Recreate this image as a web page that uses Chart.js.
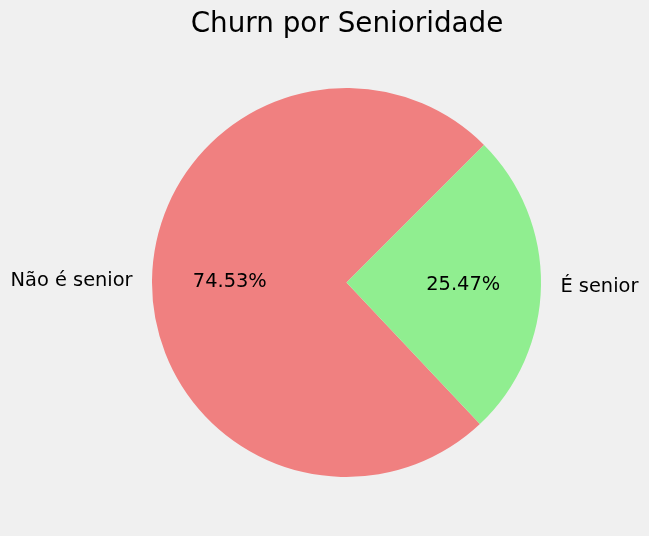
<!DOCTYPE html>
<html>
<head>
<meta charset="utf-8">
<script src="https://cdn.jsdelivr.net/npm/chart.js@4/dist/chart.umd.min.js"></script>
<style>
  html, body { margin: 0; padding: 0; background: #f0f0f0; }
  #wrap { width: 649px; height: 536px; position: relative; }
</style>
</head>
<body>
<div id="wrap"><canvas id="chart" width="649" height="536"></canvas></div>
<script>
const TITLE = 'Churn por Senioridade';
const labels = ['Não é senior', 'É senior'];
const shares = [74.53, 25.47];
const colors = ['#f08080', '#90ee90'];

const FONT = '"DejaVu Sans", sans-serif';

// matplotlib draws counter-clockwise from 45deg; chart.js goes clockwise from top
const rotation = 45 + shares[1] / 100 * 360;

const pieText = {
  id: 'pieText',
  afterDraw(chart) {
    const ctx = chart.ctx;
    const meta = chart.getDatasetMeta(0);
    const total = shares.reduce((a, b) => a + b, 0);
    ctx.save();
    ctx.fillStyle = '#000';
    ctx.textBaseline = 'middle';
    ctx.font = '19.4px ' + FONT;
    meta.data.forEach((arc, i) => {
      const p = arc.getProps(['x', 'y', 'startAngle', 'endAngle', 'outerRadius'], true);
      const mid = (p.startAngle + p.endAngle) / 2;
      const cx = Math.cos(mid), cy = Math.sin(mid);
      // outer label
      const lx = p.x + cx * p.outerRadius * 1.1;
      const ly = p.y + cy * p.outerRadius * 1.1 + 1.5;
      ctx.textAlign = cx < 0 ? 'right' : 'left';
      ctx.fillText(labels[i], lx, ly);
      // percentage
      ctx.textAlign = 'center';
      const px = p.x + cx * p.outerRadius * 0.6;
      const py = p.y + cy * p.outerRadius * 0.6 + 1;
      ctx.fillText((shares[i] / total * 100).toFixed(2) + '%', px, py);
    });
    ctx.font = '27.8px ' + FONT;
    ctx.textAlign = 'center';
    ctx.textBaseline = 'alphabetic';
    ctx.fillText(TITLE, 347, 32);
    ctx.restore();
  }
};

new Chart(document.getElementById('chart'), {
  type: 'pie',
  data: {
    labels,
    datasets: [{
      data: shares,
      backgroundColor: colors,
      borderWidth: 0,
      hoverOffset: 0,
    }],
  },
  options: {
    responsive: false,
    animation: false,
    rotation,
    layout: { padding: { top: 88, bottom: 59, left: 152, right: 108 } },
    plugins: {
      legend: { display: false },
      tooltip: { enabled: false },
      title: { display: false },
    },
  },
  plugins: [pieText],
});
</script>
</body>
</html>
